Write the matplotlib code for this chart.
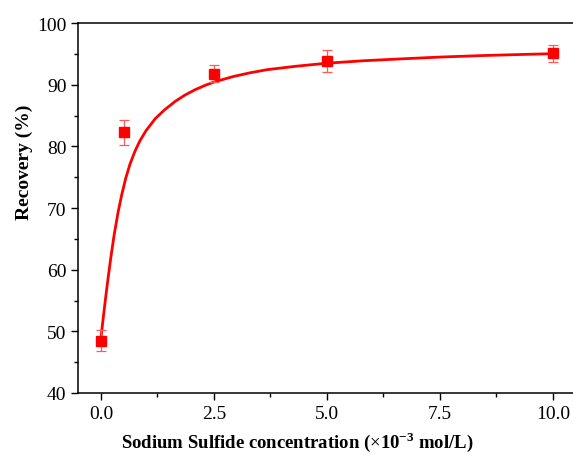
import matplotlib
matplotlib.use("Agg")
import matplotlib.pyplot as plt
from matplotlib.ticker import MultipleLocator

plt.rcParams["font.family"] = ["Liberation Serif", "DejaVu Serif"]
plt.rcParams["mathtext.fontset"] = "custom"
plt.rcParams["mathtext.rm"] = "Liberation Serif"
plt.rcParams["mathtext.bf"] = "Liberation Serif:bold"

# measured recovery points
conc = [0.0, 0.5, 2.5, 5.0, 10.0]
recovery = [48.5, 82.3, 91.8, 93.9, 95.1]
recovery_err = [1.7, 2.0, 1.4, 1.8, 1.4]

# fitted curve
fit_x = [0.0, 0.05, 0.11, 0.16, 0.22, 0.29, 0.38, 0.46, 0.55, 0.64, 0.75,
         0.86, 1.0, 1.2, 1.4, 1.64, 1.85, 2.08, 2.3, 2.52, 2.93, 3.3, 3.67,
         4.3, 4.99, 5.8, 6.62, 7.5, 8.46, 9.2, 10.0]
fit_y = [49.0, 52.2, 55.9, 58.8, 62.1, 65.6, 69.4, 72.2, 74.9, 77.1, 79.2,
         80.9, 82.6, 84.5, 85.9, 87.3, 88.3, 89.2, 89.9, 90.5, 91.35, 91.95,
         92.45, 93.0, 93.5, 93.9, 94.2, 94.5, 94.75, 94.9, 95.05]

fig = plt.figure(figsize=(5.73, 4.56), dpi=100)
ax = fig.add_axes([0.1368, 0.136, 0.8677, 0.811])

ax.plot(fit_x, fit_y, color="#ff0000", linewidth=2.0,
        solid_capstyle="round", solid_joinstyle="round", zorder=2)
ax.errorbar(conc, recovery, yerr=recovery_err, fmt="none", ecolor="#ff5a5a",
            elinewidth=0.9, capsize=3.5, capthick=0.9, zorder=3)
ax.plot(conc, recovery, "s", color="#ff0000", markersize=6.5, zorder=4)

ax.set_xlim(-0.5, 10.5)
ax.set_ylim(40, 100)
ax.xaxis.set_minor_locator(MultipleLocator(1.25))
ax.yaxis.set_major_locator(MultipleLocator(10))
ax.yaxis.set_minor_locator(MultipleLocator(5))
ax.set_xticks([0.0, 2.5, 5.0, 7.5, 10.0])
ax.set_xticklabels(["0.0", "2.5", "5.0", "7.5", "10.0"])

ax.tick_params(which="major", direction="out", length=5, width=1, labelsize=14)
ax.tick_params(which="minor", direction="out", length=3, width=1)
ax.tick_params(top=False, right=False, which="both")
for s in ax.spines.values():
    s.set_linewidth(1.1)

ax.set_xlabel(r"Sodium Sulfide concentration ($\times$10$^{\mathbf{-3}}$ mol/L)",
              fontsize=13.5, fontweight="bold")
ax.set_ylabel("Recovery (%)", fontsize=14, fontweight="bold")
ax.xaxis.set_label_coords(0.44, -0.098)
ax.yaxis.set_label_coords(-0.092, 0.627)

fig.savefig("out.png", dpi=100)
